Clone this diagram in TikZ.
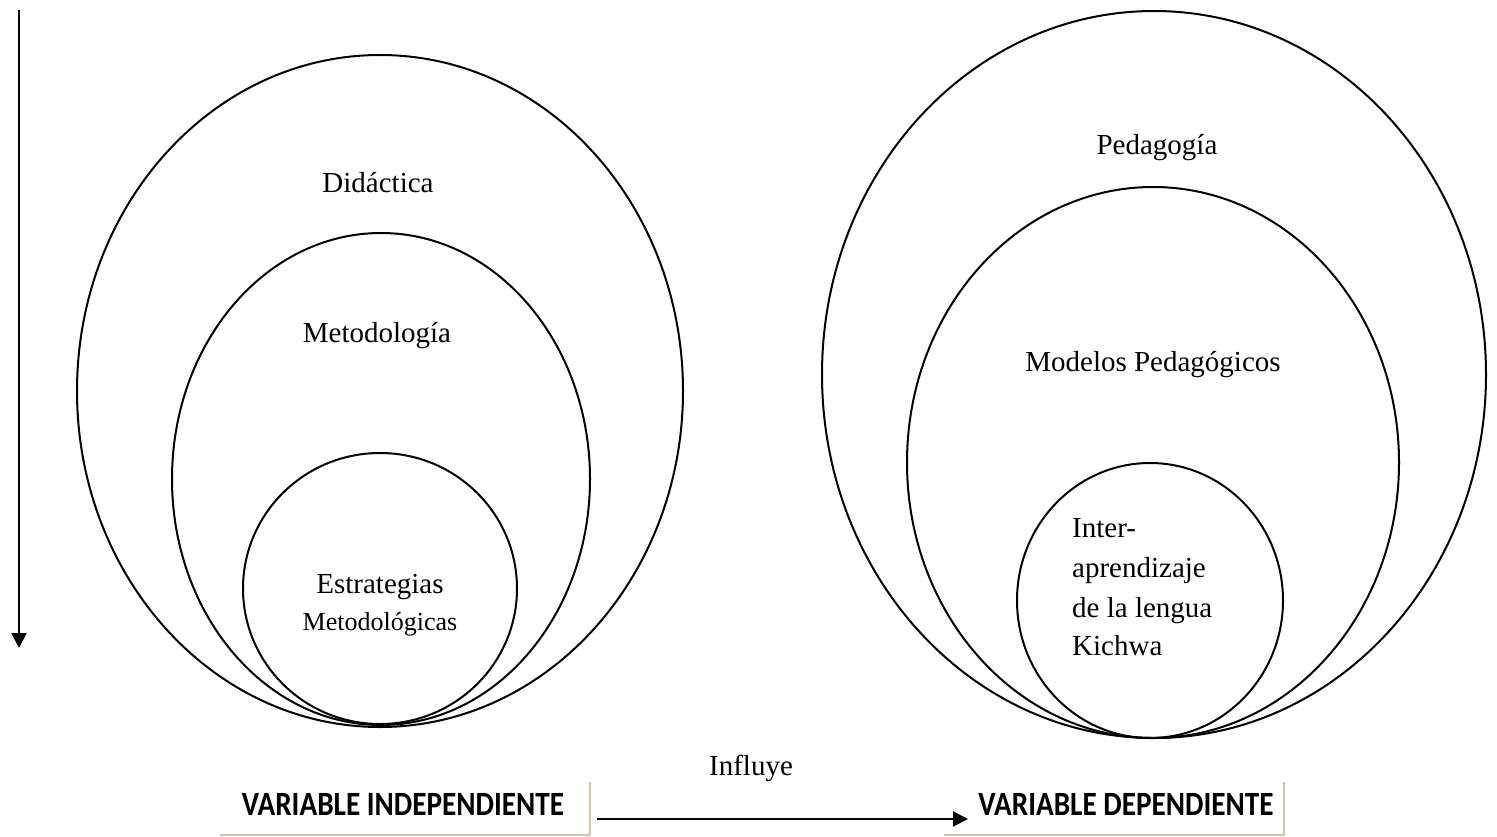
\documentclass[tikz,border=0pt]{standalone}
\usepackage{fontspec}
\setmainfont{Liberation Serif}
\newfontfamily\labelfont[FakeStretch=0.86]{Carlito}
\usetikzlibrary{shapes.geometric,arrows.meta}
\definecolor{tanline}{RGB}{215,195,165}
\tikzset{
  ring/.style={draw=black, line width=2pt, ellipse, inner sep=0pt},
  lbl/.style={font=\fontsize{29}{39}\selectfont, inner sep=0pt, anchor=base},
  varlbl/.style={font=\labelfont\bfseries\fontsize{34}{40}\selectfont, inner sep=0pt, anchor=base},
  boxline/.style={draw=tanline, line width=2pt},
  conn/.style={draw=black, line width=2pt, -{Triangle[length=15pt,width=15pt]}}
}
\begin{document}
\begin{tikzpicture}[x=1pt,y=-1pt]
\useasboundingbox (0,0) rectangle (1497,836);
% left set
\node[ring, minimum width=606pt, minimum height=672pt] (louter) at (380,391) {};
\node[ring, minimum width=418pt, minimum height=492pt] (lmid) at (381,479) {};
\node[ring, minimum width=274pt, minimum height=271pt] (linner) at (380,588.5) {};
\node[lbl] (didac) at (378,192) {Didáctica};
\node[lbl] (metod) at (377,342) {Metodología};
\node[lbl] (estr) at (380,593) {Estrategias};
\node[lbl, font=\fontsize{26}{30}\selectfont] (metodol) at (380,630) {Metodológicas};
% right set
\node[ring, minimum width=664pt, minimum height=727pt] (router) at (1154,374.5) {};
\node[ring, minimum width=492pt, minimum height=551pt] (rmid) at (1153,462.5) {};
\node[ring, minimum width=266pt, minimum height=275pt] (rinner) at (1150,600.5) {};
\node[lbl] (peda) at (1157,154) {Pedagogía};
\node[lbl] (model) at (1153,371) {Modelos Pedagógicos};
\node[lbl, anchor=base west] (inter) at (1072,537) {Inter-};
\node[lbl, anchor=base west] (apren) at (1072,577) {aprendizaje};
\node[lbl, anchor=base west] (delal) at (1072,617) {de la lengua};
\node[lbl, anchor=base west] (kich) at (1072,655) {Kichwa};
% vertical arrow
\coordinate (vtop) at (19,10);
\coordinate (vbot) at (19,648);
\draw[conn] (vtop) -- (vbot);
% variable boxes
\node[inner sep=0pt, minimum width=370pt, minimum height=53pt] (lbox) at (405,808.5) {};
\node[varlbl] (ltext) at (403,815) {VARIABLE INDEPENDIENTE};
\draw[boxline] (lbox.south west) -- (lbox.south east) -- (lbox.north east);
\node[inner sep=0pt, minimum width=340pt, minimum height=53pt] (rbox) at (1114,808.5) {};
\node[varlbl] (rtext) at (1126,815) {VARIABLE DEPENDIENTE};
\draw[boxline] (rbox.south west) -- (rbox.south east) -- (rbox.north east);
% influence arrow
\coordinate (hstart) at (597,819);
\coordinate (hend) at (968,819);
\draw[conn] (hstart) -- (hend);
\node[lbl] (influ) at (751,775) {Influye};
\end{tikzpicture}
\end{document}
